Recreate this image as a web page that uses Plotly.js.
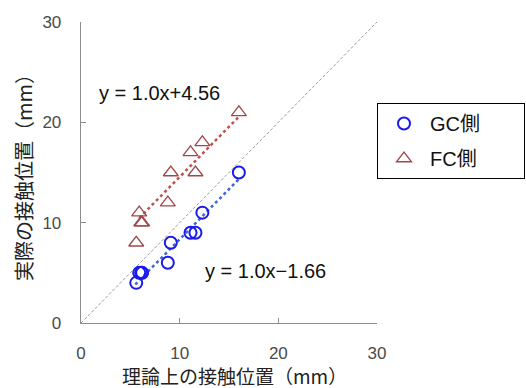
<!DOCTYPE html>
<html>
<head>
<meta charset="utf-8">
<script src="https://cdn.plot.ly/plotly-3.0.1.min.js"></script>
<style>html,body{margin:0;padding:0;background:#fff;}#chart{width:526px;height:388px;}</style>
</head>
<body>
<div id="chart"></div>
<script>
// ---- data ----
const gcX = [5.6, 5.9, 6.1, 6.2, 8.8, 9.1, 11.1, 11.6, 12.3, 16.0];
const gcY = [4, 5, 5, 5, 6, 8, 9, 9, 11, 15];
const fcX = [5.6, 5.9, 6.1, 6.2, 8.8, 9.1, 11.1, 11.6, 12.3, 16.0];
const fcY = [8, 11, 10, 10, 12, 15, 17, 15, 18, 21];
const gcTrendX = [5.5, 16.0];
const gcTrendY = [3.84, 14.34];
const fcTrendX = [5.9, 16.0];
const fcTrendY = [10.46, 20.56];
const refX = [0, 30];
const refY = [0, 30];
const tickVals = [0, 10, 20, 30];
const tickText = ['0', '10', '20', '30'];
const seriesNames = ['GC側', 'FC側'];
const eqTexts = ['y = 1.0x+4.56', 'y = 1.0x\u22121.66'];
const eqPos = [[1.6, 22.9], [12.4, 5.2]];
const xTitle = '理論上の接触位置（mm）';
const yTitle = '実際の接触位置（mm）';

const LAT = 'Liberation Sans, Arial, Noto Sans CJK JP, sans-serif';
const CJK = 'Noto Sans CJK JP, sans-serif';
const pad = '\u00a0\u00a0\u00a0\u00a0\u00a0\u00a0\u00a0';

const traces = [
  {x: refX, y: refY, mode: 'lines', line: {color: '#9a9a9a', width: 1, dash: '3px,2px'}, showlegend: false, hoverinfo: 'skip'},
  {x: gcTrendX, y: gcTrendY, mode: 'lines', line: {color: '#3a66d8', width: 2.5, dash: 'dot'}, showlegend: false, hoverinfo: 'skip'},
  {x: fcTrendX, y: fcTrendY, mode: 'lines', line: {color: '#c0504d', width: 2.5, dash: 'dot'}, showlegend: false, hoverinfo: 'skip'},
  {x: gcX, y: gcY, name: seriesNames[0] + pad, mode: 'markers', legendgroup: 'a',
   marker: {symbol: 'circle-open', size: 12, color: '#1a1aee', line: {width: 2, color: '#1a1aee'}}},
  {x: fcX, y: fcY, name: seriesNames[1] + pad, mode: 'markers', legendgroup: 'b',
   marker: {symbol: 'triangle-up-open', size: 13, color: '#a04848', line: {width: 1.3, color: '#a04848'}}}
];

const axisCommon = {
  range: [0, 30], tickvals: tickVals, ticktext: tickText,
  showgrid: false, zeroline: false, showline: true, linecolor: '#8c8c8c', linewidth: 1.3,
  ticks: 'inside', ticklen: 5, tickcolor: '#8c8c8c', tickwidth: 1,
  tickfont: {family: LAT, size: 17, color: '#4a4a4a'}, fixedrange: true
};

const layout = {
  width: 526, height: 388,
  margin: {l: 81, r: 146, t: 22, b: 65},
  paper_bgcolor: '#fff', plot_bgcolor: '#fff',
  xaxis: Object.assign({}, axisCommon, {ticklabelstandoff: 14}),
  yaxis: Object.assign({}, axisCommon, {ticklabelstandoff: 15,
    title: {text: yTitle, font: {family: CJK, size: 20, color: '#222'}, standoff: 4}}),
  showlegend: true,
  legend: {
    xref: 'container', yref: 'container',
    x: 377 / 526, y: 1 - 103 / 388, xanchor: 'left', yanchor: 'top',
    bordercolor: '#000', borderwidth: 1, bgcolor: '#fff',
    font: {family: LAT, size: 20, color: '#111'},
    itemwidth: 42, tracegroupgap: 6, traceorder: 'grouped'
  },
  annotations: [
    {x: eqPos[0][0], y: eqPos[0][1], xref: 'x', yref: 'y', text: eqTexts[0], showarrow: false,
     xanchor: 'left', yanchor: 'middle', font: {family: LAT, size: 20, color: '#111'}},
    {x: eqPos[1][0], y: eqPos[1][1], xref: 'x', yref: 'y', text: eqTexts[1], showarrow: false,
     xanchor: 'left', yanchor: 'middle', font: {family: LAT, size: 20, color: '#111'}},
    {x: 0, y: 0, xref: 'paper', yref: 'paper', xanchor: 'center', yanchor: 'middle',
     text: xTitle, showarrow: false, font: {family: CJK, size: 19, color: '#222'}}
  ]
};
// paper-coordinate placement for the x title (converted from pixel targets)
const pw = 526 - 81 - 146, ph = 388 - 22 - 65;
layout.annotations[2].x = (236.5 - 81) / pw;
layout.annotations[2].y = (323 - 375) / ph;

Plotly.newPlot('chart', traces, layout, {staticPlot: true, displayModeBar: false});
</script>
</body>
</html>
